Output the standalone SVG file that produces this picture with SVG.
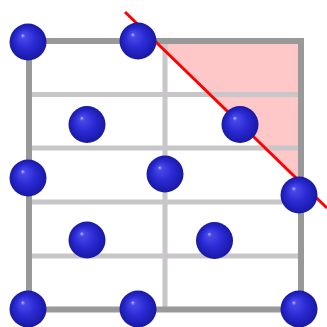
<svg xmlns="http://www.w3.org/2000/svg" width="327" height="327" viewBox="0 0 327 327">
<defs>
<style>
.grid{stroke:#c8c6c8;stroke-width:5;fill:none}
.border{stroke:#999999;stroke-width:6;fill:none}
.ball{fill:url(#sph)}
</style>
<radialGradient id="sph" cx="0.5" cy="0.5" r="0.5" fx="0.35" fy="0.32">
<stop offset="0" stop-color="#b8b8ff"/>
<stop offset="0.12" stop-color="#4848e8"/>
<stop offset="0.55" stop-color="#2a2ad4"/>
<stop offset="1" stop-color="#1818a4"/>
</radialGradient>
</defs>
<rect width="327" height="327" fill="#ffffff"/>
<polygon points="155,41 301,41 301,183" fill="#ffc8c8"/>
<g id="grid">
<line class="grid" x1="29" y1="94.5" x2="301" y2="94.5"/>
<line class="grid" x1="29" y1="148" x2="301" y2="148"/>
<line class="grid" x1="29" y1="202" x2="301" y2="202"/>
<line class="grid" x1="29" y1="256" x2="301" y2="256"/>
<line class="grid" x1="165" y1="41" x2="165" y2="309"/>
<rect class="border" x="29" y="41" width="272" height="268.5"/>
</g>
<g id="connectors">
<line x1="125" y1="12" x2="327" y2="208" stroke="#ff0000" stroke-width="3"/>
</g>
<g id="atoms">
<circle id="a1" class="ball" cx="28" cy="42" r="18.5"/>
<circle id="a2" class="ball" cx="138" cy="41" r="18.5"/>
<circle id="a3" class="ball" cx="87" cy="124.5" r="18.5"/>
<circle id="a4" class="ball" cx="240" cy="124.5" r="18.5"/>
<circle id="a5" class="ball" cx="28" cy="178" r="18.5"/>
<circle id="a6" class="ball" cx="165" cy="174" r="18.5"/>
<circle id="a7" class="ball" cx="299" cy="195" r="18.5"/>
<circle id="a8" class="ball" cx="87" cy="240" r="18.5"/>
<circle id="a9" class="ball" cx="214.5" cy="240.5" r="18.5"/>
<circle id="a10" class="ball" cx="28" cy="309" r="18.5"/>
<circle id="a11" class="ball" cx="138" cy="309" r="18.5"/>
<circle id="a12" class="ball" cx="299" cy="309" r="18.5"/>
</g>
</svg>
